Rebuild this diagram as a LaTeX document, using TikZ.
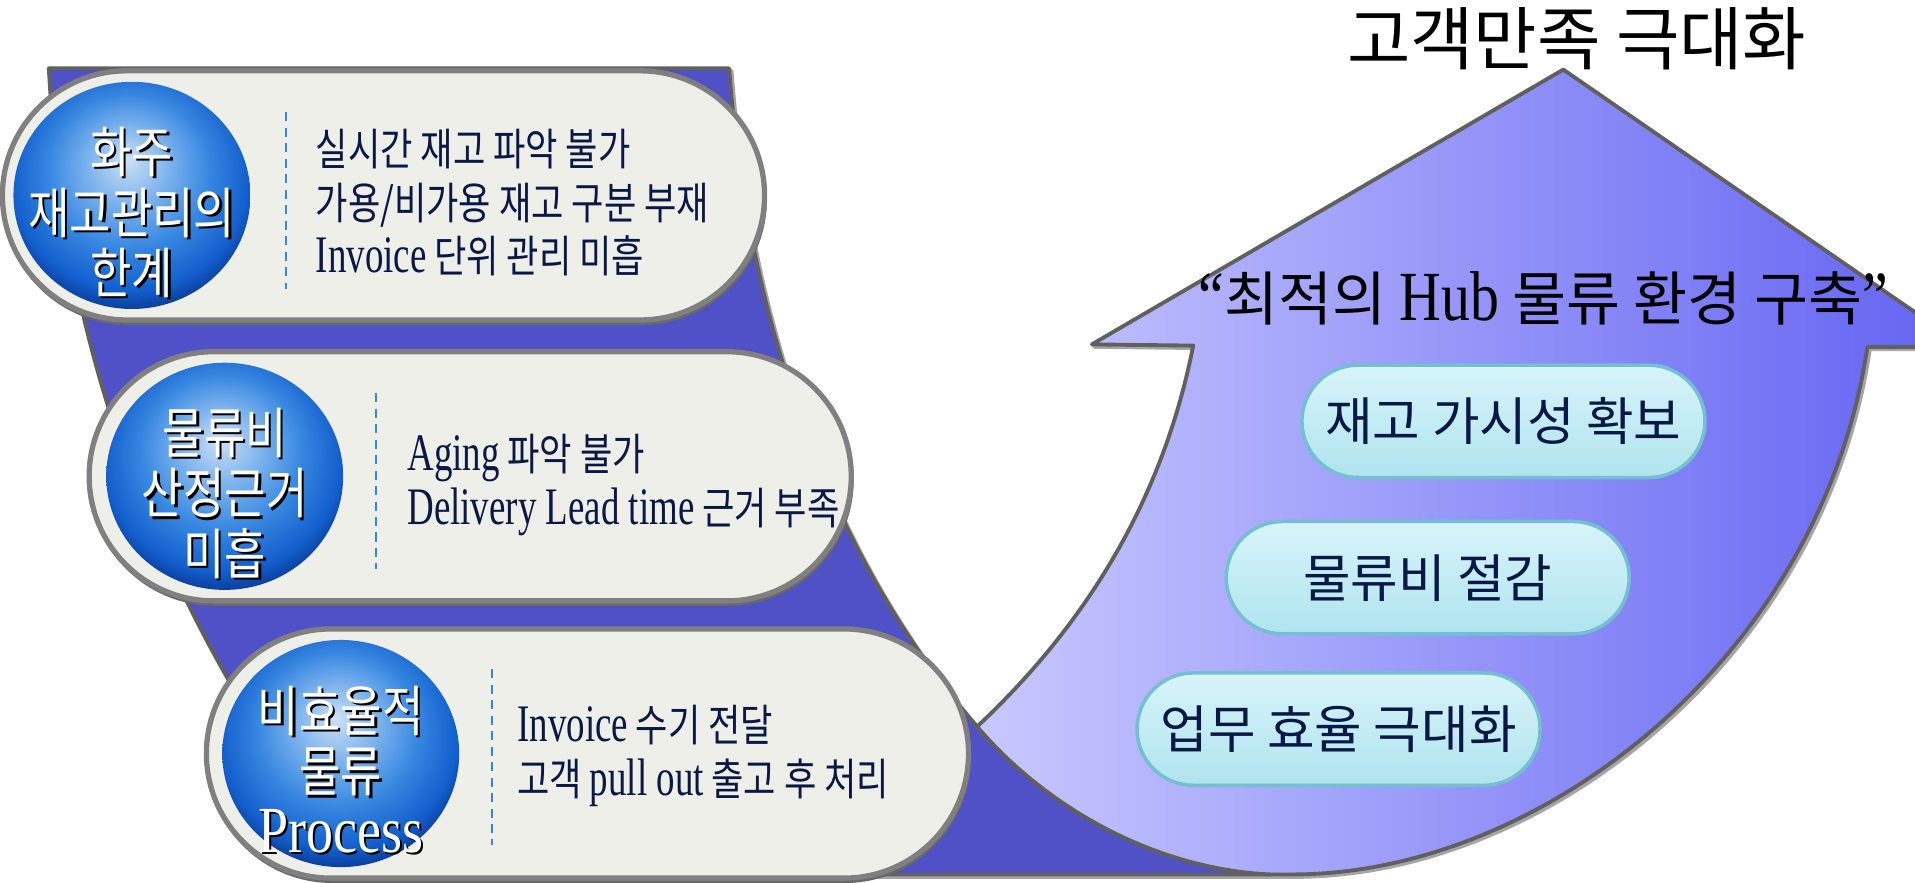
\documentclass[tikz,border=0pt]{standalone}
\usepackage{fontspec}
\usetikzlibrary{shapes.misc,shapes.geometric}
\newfontfamily\krn{Noto Sans CJK KR}
\newfontfamily\krc[FakeStretch=0.8]{Noto Sans CJK KR}
\newfontfamily\krb[FakeStretch=0.82]{Noto Sans CJK KR}
\newfontfamily\lnc[FakeStretch=0.70,Scale=1.2]{Liberation Serif}
\newfontfamily\lnn[FakeStretch=0.82,Scale=1.2]{Liberation Serif}
\def\uu{0.012213cm}
\definecolor{band}{RGB}{81,81,199}
\definecolor{edge}{RGB}{96,96,96}
\definecolor{edgesh}{RGB}{165,165,165}
\definecolor{arrL}{RGB}{200,200,255}
\definecolor{arrR}{RGB}{98,98,242}
\definecolor{capfill}{RGB}{238,239,232}
\definecolor{capline}{RGB}{128,128,128}
\definecolor{capsh}{RGB}{105,105,105}
\definecolor{navy}{RGB}{10,24,70}
\definecolor{dashblue}{RGB}{50,135,225}
\definecolor{pillTop}{RGB}{215,244,250}
\definecolor{pillMid}{RGB}{150,216,230}
\definecolor{pillBot}{RGB}{176,228,238}
\definecolor{pillLine}{RGB}{115,192,208}
\definecolor{ballA}{RGB}{205,225,245}
\definecolor{ballB}{RGB}{130,182,238}
\definecolor{ballC}{RGB}{55,135,225}
\definecolor{ballD}{RGB}{18,95,205}
\definecolor{ballE}{RGB}{10,48,135}
\pgfdeclareradialshading{ballshade}{\pgfpoint{-1bp}{8bp}}{color(0bp)=(ballA); color(8bp)=(ballB); color(17bp)=(ballC); color(25bp)=(ballD); color(30bp)=(ballE); color(50bp)=(ballE)}
\tikzset{
  capsule/.style={rounded rectangle, draw=capline, line width=1.5pt, fill=capfill, minimum height=204*\uu, minimum width=624*\uu, inner sep=0pt},
  capshadow/.style={rounded rectangle, fill=capsh, minimum height=206*\uu, minimum width=626*\uu, inner sep=0pt},
  ball/.style={ellipse, shading=ballshade, minimum width=194*\uu, minimum height=186*\uu, inner sep=0pt},
  balltxt/.style={font={\krb\fontsize{15.6pt}{17.2pt}\selectfont}, align=center, text=white, inner sep=0pt},
  ballsh/.style={balltxt, text=black},
  captxt/.style={font={\krc\fontsize{12.5pt}{15.3pt}\selectfont}, align=left, text=navy, anchor=west, inner sep=0pt},
  sep/.style={draw=dashblue, line width=0.6pt, dash pattern=on 2.6pt off 1.8pt},
  pill/.style={rounded rectangle, minimum width=330*\uu, minimum height=92*\uu, draw=pillLine, line width=1pt, top color=pillTop, middle color=pillMid, bottom color=pillBot, inner sep=0pt, font={\krn\fontsize{14.7pt}{16pt}\selectfont}, text=navy},
  outline/.style={draw=edge, line width=1.1pt, line join=round},
  outlinesh/.style={draw=edgesh, line width=1.1pt, line join=round, shift={(2,2)}}
}
\def\bandpath{(40,56) -- (597,56) .. controls (615,300) and (700,480) .. (800,595) .. controls (860,665) and (950,712) .. (1040,716) -- (290,716) .. controls (150,520) and (55,330) .. (40,56) -- cycle}
\def\arrowpath{(977,283) .. controls (950,420) and (880,520) .. (800,595) .. controls (860,665) and (950,712) .. (1040,716) -- (1060,716) .. controls (1265,715) and (1492,535) .. (1529,284) -- (1609,284) -- (1280,57) -- (894,282) -- cycle}
\begin{document}
\begin{tikzpicture}[x=\uu, y=-\uu]
\useasboundingbox (0,0) rectangle (1568,723);
\fill[white] (0,0) rectangle (1568,723);
\clip (0,0) rectangle (1568,723);
% big curved arrow
\path[outlinesh] \bandpath;
\path[outlinesh] \arrowpath;
\fill[band] \bandpath;
\path[outline] \bandpath;
\shade[left color=arrL, right color=arrR] \arrowpath;
\path[outline] \arrowpath;
% title and headline
\node[font={\krn\fontsize{19.6pt}{22pt}\selectfont}, text=black, inner sep=0pt] (title) at (1291,32) {고객만족 극대화};
\node[font={\krn\fontsize{16.7pt}{19pt}\selectfont}, text=black, inner sep=0pt] (head) at (1264,244) {{\lnn “}최적의 {\lnn Hub} 물류 환경 구축{\lnn ”}};
% pills
\node[pill] (p1) at (1231,345) {재고 가시성 확보};
\node[pill] (p2) at (1169,473) {물류비 절감};
\node[pill] (p3) at (1096,597) {업무 효율 극대화};
% capsule 1
\node[capshadow] (c1s) at (315,163) {};
\node[capsule] (c1) at (314,160) {};
\node[ball] (b1) at (108,160) {};
\node[ballsh] (t1s) at (110,176) {화주\\재고관리의\\한계};
\node[balltxt] (t1) at (108,174) {화주\\재고관리의\\한계};
\draw[sep] (234,92) -- (234,237);
\node[captxt] (x1) at (258,166) {실시간 재고 파악 불가\\가용/비가용 재고 구분 부재\\{\lnc Invoice} 단위 관리 미흡};
% capsule 2
\node[capshadow] (c2s) at (386,393) {};
\node[capsule] (c2) at (385,390) {};
\node[ball] (b2) at (184,390) {};
\node[ballsh] (t2s) at (186,406) {물류비\\산정근거\\미흡};
\node[balltxt] (t2) at (184,404) {물류비\\산정근거\\미흡};
\draw[sep] (308,322) -- (308,466);
\node[captxt] (x2) at (333,397) {{\lnc Aging} 파악 불가\\{\lnc Delivery Lead time} 근거 부족};
% capsule 3
\node[capshadow] (c3s) at (482,620) {};
\node[capsule] (c3) at (481,617) {};
\node[ball] (b3) at (279,617) {};
\node[ballsh] (t3s) at (281,632) {비효율적\\물류\\{\lnn Process}};
\node[balltxt] (t3) at (279,630) {비효율적\\물류\\{\lnn Process}};
\draw[sep] (403,548) -- (403,692);
\node[captxt] (x3) at (423,619) {{\lnc Invoice} 수기 전달\\고객 {\lnc pull out} 출고 후 처리};
\end{tikzpicture}
\end{document}
